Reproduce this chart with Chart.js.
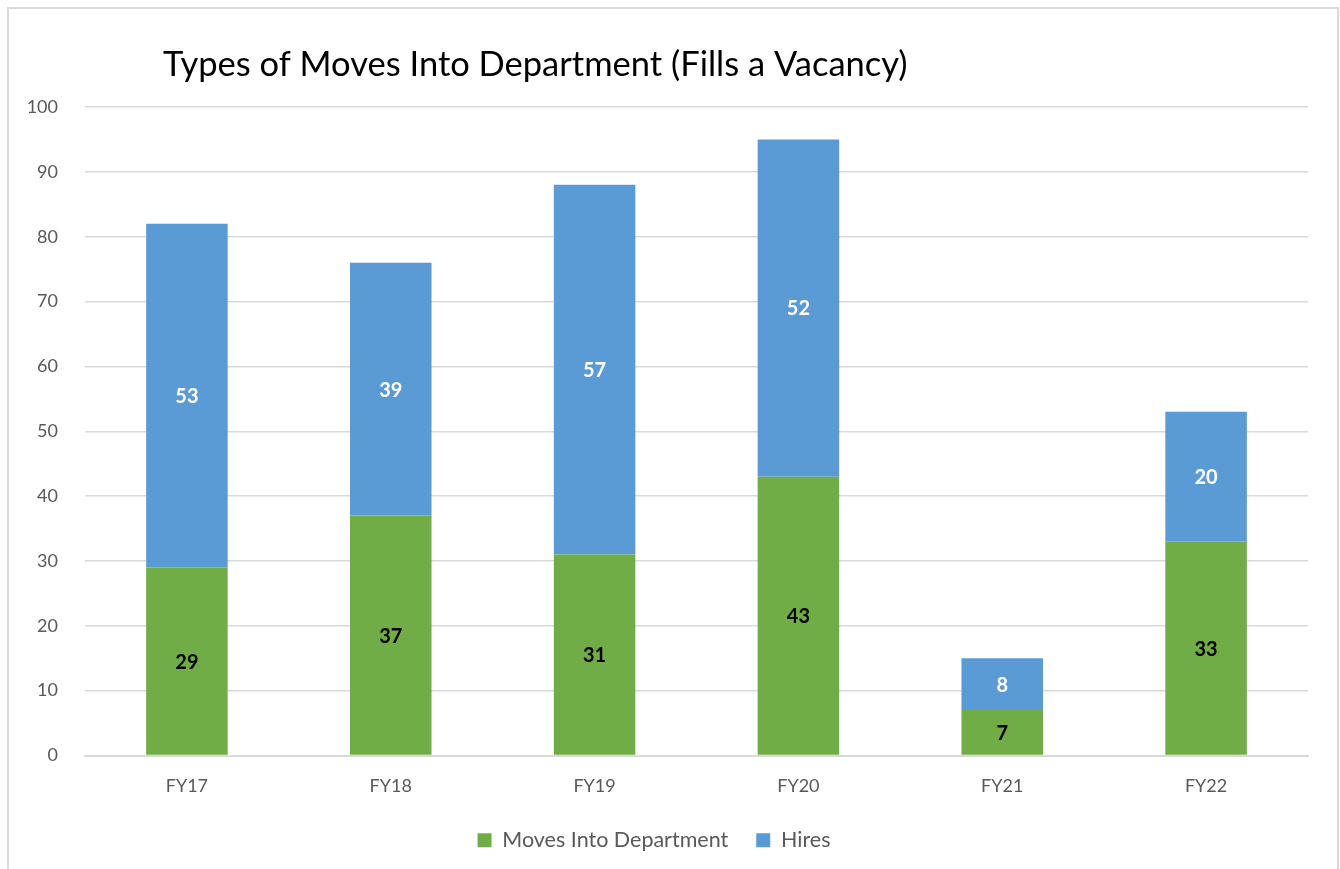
<!DOCTYPE html>
<html lang="en">
<head>
  <meta charset="UTF-8"/>
  <title>Types of Moves Into Department (Fills a Vacancy)</title>
  <script src="https://cdn.jsdelivr.net/npm/chart.js"></script>
  <style>
    * { box-sizing: border-box; margin: 0; padding: 0; }
    body { background: #fff; width: 1340px; height: 869px; overflow: hidden; position: relative; }
    #frame {
      position: absolute; left: 7px; top: 7px; width: 1332px; height: 900px;
      border: 2px solid #d9d9d9;
    }
    #chart-container { position: absolute; left: 0; top: 0; width: 1340px; height: 869px; }
  </style>
</head>
<body>
  <div id="frame"></div>
  <div id="chart-container">
    <canvas id="movesChart" width="1340" height="869"></canvas>
  </div>

  <script>
    // Chart data
    const categories = ['FY17', 'FY18', 'FY19', 'FY20', 'FY21', 'FY22'];
    const movesInto = [29, 37, 31, 43, 7, 33];
    const hires = [53, 39, 57, 52, 8, 20];
    const yTicks = [0, 10, 20, 30, 40, 50, 60, 70, 80, 90, 100];

    const chartTitle = 'Types of Moves Into Department (Fills a Vacancy)';
    const fontFamily = "Lato, 'Open Sans', 'Liberation Sans', sans-serif";

    // Title drawn at a fixed spot, left-ish like the original
    const titlePlugin = {
      id: 'leftTitle',
      afterDraw(chart) {
        const ctx = chart.ctx;
        ctx.save();
        ctx.font = `34.5px ${fontFamily}`;
        ctx.fillStyle = '#000';
        ctx.textBaseline = 'middle';
        ctx.textAlign = 'left';
        ctx.fillText(chartTitle, 163, 65);
        ctx.restore();
      }
    };

    // Value labels in the middle of each segment
    const valueLabels = {
      id: 'valueLabels',
      afterDatasetsDraw(chart) {
        const ctx = chart.ctx;
        ctx.save();
        ctx.font = `bold 20px ${fontFamily}`;
        ctx.textAlign = 'center';
        ctx.textBaseline = 'middle';
        chart.data.datasets.forEach((ds, i) => {
          const meta = chart.getDatasetMeta(i);
          ctx.fillStyle = ds.labelColor;
          meta.data.forEach((bar, j) => {
            const mid = (bar.y + bar.base) / 2;
            ctx.fillText(String(ds.data[j]), bar.x, mid + 1);
          });
        });
        ctx.restore();
      }
    };

    const ctx = document.getElementById('movesChart').getContext('2d');
    new Chart(ctx, {
      type: 'bar',
      data: {
        labels: categories,
        datasets: [
          {
            label: 'Moves Into Department',
            data: movesInto,
            backgroundColor: '#70ad47',
            labelColor: '#000'
          },
          {
            label: 'Hires',
            data: hires,
            backgroundColor: '#5b9bd5',
            labelColor: '#fff'
          }
        ]
      },
      options: {
        responsive: false,
        animation: false,
        layout: { padding: { top: 107, right: 32, bottom: 8, left: 0 } },
        datasets: { bar: { categoryPercentage: 1, barPercentage: 0.4 } },
        scales: {
          x: {
            stacked: true,
            afterFit(scale) { scale.height = 46; },
            grid: { display: false, drawTicks: false },
            border: { color: '#d9d9d9', width: 2 },
            ticks: { color: '#595959', padding: 20, font: { family: fontFamily, size: 18 } }
          },
          y: {
            stacked: true,
            min: 0,
            max: 100,
            afterBuildTicks(scale) { scale.ticks = yTicks.map(v => ({ value: v })); },
            afterFit(scale) { scale.width = 85; },
            grid: { color: '#d9d9d9', lineWidth: 1.5, drawTicks: false },
            border: { display: false },
            ticks: { color: '#595959', padding: 27, font: { family: fontFamily, size: 18 } }
          }
        },
        plugins: {
          legend: {
            position: 'bottom',
            labels: {
              boxWidth: 14, boxHeight: 14, padding: 28,
              color: '#595959',
              font: { family: fontFamily, size: 21.5 }
            }
          },
          title: { display: false },
          tooltip: { enabled: false }
        }
      },
      plugins: [titlePlugin, valueLabels]
    });
  </script>
</body>
</html>
